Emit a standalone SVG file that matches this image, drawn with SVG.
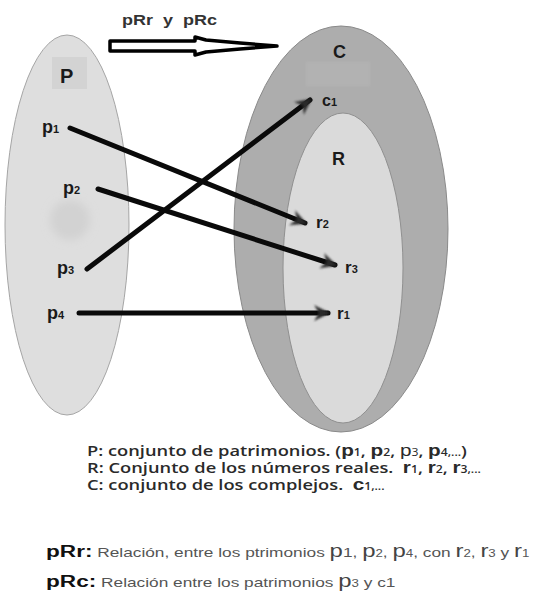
<svg xmlns="http://www.w3.org/2000/svg" width="551" height="598" viewBox="0 0 551 598">
<style>
.lbl{font-family:"Liberation Sans",Arial,sans-serif;font-weight:bold;fill:#1a1a1a}
.sub{font-size:11px}
.desc{font-family:"Open Sans","Liberation Sans",sans-serif;font-weight:600;font-size:15px;fill:#2a2a2a}
.big{font-family:"Liberation Sans",Arial,sans-serif;font-size:17px}
.rel{font-family:"Liberation Sans",Arial,sans-serif;font-size:13px;fill:#555}
.rbig{font-family:"Liberation Sans",Arial,sans-serif;font-size:18px;fill:#444}
.rsub{font-family:"Liberation Sans",Arial,sans-serif;font-size:10px;fill:#555}
.conn{stroke:#0a0a0a;stroke-width:5;stroke-linecap:round;fill:none}
</style>
<defs>
<filter id="blur" x="-50%" y="-50%" width="200%" height="200%"><feGaussianBlur stdDeviation="4"/></filter>
<filter id="soft" x="-50%" y="-50%" width="200%" height="200%"><feGaussianBlur stdDeviation="1.2"/></filter>
<marker id="ah" markerUnits="userSpaceOnUse" markerWidth="22" markerHeight="20" refX="16" refY="10" orient="auto">
<path d="M2,2 L18,10 L2,18 L7,10 Z" fill="#2a2a2a" filter="url(#soft)"/>
</marker>
</defs>
<rect width="551" height="598" fill="#fff"/>
<g id="setP">
<ellipse cx="67" cy="225" rx="62" ry="190" fill="#dedede" stroke="#a5a5a5" stroke-width="1"/>
<rect x="52" y="57" width="35" height="32" fill="#d3d3d3"/>
<circle cx="70" cy="220" r="20" fill="#d2d2d2" filter="url(#blur)"/>
<text class="lbl" x="60" y="83" font-size="20">P</text>
<text class="lbl" x="42" y="133" font-size="18">p<tspan class="sub">1</tspan></text>
<text class="lbl" x="63" y="194" font-size="18">p<tspan class="sub">2</tspan></text>
<text class="lbl" x="57" y="274" font-size="18">p<tspan class="sub">3</tspan></text>
<text class="lbl" x="47" y="319" font-size="18">p<tspan class="sub">4</tspan></text>
</g>
<g id="setC">
<ellipse cx="341" cy="229" rx="107" ry="203" fill="#adadad" stroke="#8a8a8a" stroke-width="1"/>
<rect x="306" y="62" width="64" height="24" fill="#b2b2b2" filter="url(#soft)"/>
<text class="lbl" x="333" y="58" font-size="18">C</text>
<text class="lbl" x="322" y="106" font-size="16">c<tspan class="sub">1</tspan></text>
</g>
<g id="setR">
<ellipse cx="343" cy="268" rx="60" ry="155" fill="#dadada" stroke="#909090" stroke-width="1"/>
<text class="lbl" x="332" y="165" font-size="18">R</text>
<text class="lbl" x="316" y="228" font-size="17">r<tspan class="sub">2</tspan></text>
<text class="lbl" x="345" y="273" font-size="17">r<tspan class="sub">3</tspan></text>
<text class="lbl" x="337" y="319" font-size="17">r<tspan class="sub">1</tspan></text>
</g>
<g id="bigArrow">
<polygon points="110,41 195,41 195,37 206,40 240,43 277,46 240,49 206,52 195,55 195,51 110,51" fill="#fff" stroke="#000" stroke-width="3.5" stroke-linejoin="round"/>
<text class="lbl" transform="translate(122,25) scale(1.2,1)" font-size="15" style="fill:#333" xml:space="preserve">pRr  y  pRc</text>
</g>
<g id="connectors">
<line class="conn" x1="70" y1="128" x2="305" y2="223" marker-end="url(#ah)"/>
<line class="conn" x1="98" y1="189" x2="335" y2="265" marker-end="url(#ah)"/>
<line class="conn" x1="87" y1="269" x2="310" y2="100" marker-end="url(#ah)"/>
<line class="conn" x1="79" y1="313" x2="328" y2="313" marker-end="url(#ah)"/>
</g>
<g id="legend">
<text class="desc" transform="translate(87,456) scale(1.22,1)" xml:space="preserve">P: conjunto de patrimonios. (<tspan class="big">p</tspan><tspan font-size="10">1</tspan>, <tspan class="big">p</tspan><tspan font-size="10">2</tspan>, <tspan class="big" font-weight="normal">p</tspan><tspan font-size="10" font-weight="normal">3</tspan>, <tspan class="big">p</tspan><tspan font-size="10">4,...</tspan>)</text>
<text class="desc" transform="translate(87,473) scale(1.22,1)" xml:space="preserve">R: Conjunto de los números reales.  <tspan class="big">r</tspan><tspan font-size="10">1</tspan>, <tspan class="big">r</tspan><tspan font-size="10">2</tspan>, <tspan class="big">r</tspan><tspan font-size="10">3,...</tspan></text>
<text class="desc" transform="translate(87,490) scale(1.22,1)" xml:space="preserve">C: conjunto de los complejos.  <tspan class="big">c</tspan><tspan font-size="10">1,...</tspan></text>
<text transform="translate(46,557) scale(1.33,1)" xml:space="preserve"><tspan class="lbl" font-size="17" style="fill:#111">pRr:</tspan><tspan class="rel"> Relación, entre los ptrimonios </tspan><tspan class="rbig">p</tspan><tspan class="rel">1, </tspan><tspan class="rbig">p</tspan><tspan class="rsub">2</tspan><tspan class="rel">, </tspan><tspan class="rbig">p</tspan><tspan class="rsub">4</tspan><tspan class="rel">, con </tspan><tspan class="rbig">r</tspan><tspan class="rsub">2</tspan><tspan class="rel">, </tspan><tspan class="rbig">r</tspan><tspan class="rsub">3</tspan><tspan class="rel"> y </tspan><tspan class="rbig">r</tspan><tspan class="rsub">1</tspan></text>
<text transform="translate(46,587) scale(1.33,1)" xml:space="preserve"><tspan class="lbl" font-size="17" style="fill:#111">pRc:</tspan><tspan class="rel"> Relación entre los patrimonios </tspan><tspan class="rbig">p</tspan><tspan class="rsub">3</tspan><tspan class="rel"> y c1</tspan></text>
</g>
</svg>
